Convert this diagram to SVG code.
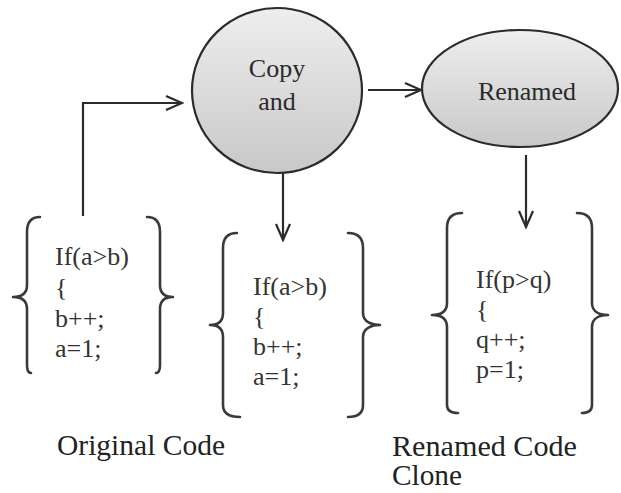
<svg xmlns="http://www.w3.org/2000/svg" width="621" height="493" viewBox="0 0 621 493">
  <style>
    .shape { stroke: #2b2b2b; stroke-width: 2.2; fill: url(#g); }
    .brace { stroke: #3a3a3a; stroke-width: 2.6; fill: none; stroke-linecap: round; stroke-linejoin: round; }
    .conn { stroke: #2b2b2b; stroke-width: 2.2; fill: none; }
    text { font-family: "Liberation Serif", Tinos, "Times New Roman", Times, "Nimbus Roman", "Nimbus Roman No9 L", FreeSerif, "DejaVu Serif", "Noto Serif", Georgia, serif; }
    .lbl { font-size: 26px; fill: #2a2a2a; }
    .code { font-size: 26px; fill: #333333; }
    .cap { font-size: 29px; fill: #222222; }
  </style>
  <defs>
    <linearGradient id="g" x1="0" y1="0" x2="0" y2="1">
      <stop offset="0" stop-color="#eeeeee"/>
      <stop offset="1" stop-color="#c8c8c8"/>
    </linearGradient>
    <marker id="arr" markerUnits="userSpaceOnUse" viewBox="0 0 20 18" refX="18" refY="9" markerWidth="20" markerHeight="18" orient="auto">
      <path d="M2,2 L18,9 L2,16" fill="none" stroke="#2b2b2b" stroke-width="2.2"/>
    </marker>
  </defs>
  <rect width="621" height="493" fill="#ffffff"/>

  <g id="copy-node">
    <ellipse class="shape" cx="277" cy="90.5" rx="85" ry="82.5"/>
    <text class="lbl" x="277" y="77" text-anchor="middle">Copy</text>
    <text class="lbl" x="277" y="110" text-anchor="middle">and</text>
  </g>

  <g id="renamed-node">
    <ellipse class="shape" cx="520" cy="88.5" rx="98" ry="58.5"/>
    <text class="lbl" x="527" y="100" text-anchor="middle">Renamed</text>
  </g>

  <g id="original-block">
    <path class="brace" d="M40,217 Q27,217 27,232 L27,285 C27,294 21,297 13,297 C21,297 27,300 27,309 L27,365 Q27,373 31,373"/>
    <path class="brace" d="M147,217 Q160,217 160,232 L160,285 C160,294 166,297 173,297 C166,297 160,300 160,309 L160,365 Q160,373 156,373"/>
    <text class="code" x="55" y="265">If(a&gt;b)</text>
    <text class="code" x="55" y="296">{</text>
    <text class="code" x="55" y="327">b++;</text>
    <text class="code" x="55" y="357">a=1;</text>
  </g>

  <g id="copy-block">
    <path class="brace" d="M237,233 Q223,233 223,248 L223,313 C223,322 217,325 210,325 C217,325 223,328 223,337 L223,405 Q223,417 240,417"/>
    <path class="brace" d="M348,233 Q363,233 363,248 L363,313 C363,322 372,325 380,325 C372,325 363,328 363,337 L363,405 Q363,417 348,417"/>
    <text class="code" x="253" y="295">If(a&gt;b)</text>
    <text class="code" x="253" y="325">{</text>
    <text class="code" x="253" y="355">b++;</text>
    <text class="code" x="253" y="385">a=1;</text>
  </g>

  <g id="renamed-block">
    <path class="brace" d="M462,213 Q447,213 447,228 L447,303 C447,312 440,315 432,315 C440,315 447,318 447,327 L447,405 Q447,413 458,413"/>
    <path class="brace" d="M577,213 Q592,213 592,228 L592,303 C592,312 600,315 608,315 C600,315 592,318 592,327 L592,405 Q592,413 582,413"/>
    <text class="code" x="476" y="288">If(p&gt;q)</text>
    <text class="code" x="476" y="318">{</text>
    <text class="code" x="476" y="348">q++;</text>
    <text class="code" x="476" y="378">p=1;</text>
  </g>

  <g id="caption-original">
    <text class="cap" x="57" y="455" textLength="168" lengthAdjust="spacingAndGlyphs">Original Code</text>
  </g>
  <g id="caption-renamed">
    <text class="cap" x="392" y="456" textLength="185" lengthAdjust="spacingAndGlyphs">Renamed Code</text>
    <text class="cap" x="392" y="485" textLength="70" lengthAdjust="spacingAndGlyphs">Clone</text>
  </g>

  <g id="connectors">
    <path class="conn" d="M83,216 L83,103 L182,103" marker-end="url(#arr)"/>
    <path class="conn" d="M368,90 L421,90" marker-end="url(#arr)"/>
    <path class="conn" d="M283,173 L283,240" marker-end="url(#arr)"/>
    <path class="conn" d="M526,155 L526,227" marker-end="url(#arr)"/>
  </g>
</svg>
